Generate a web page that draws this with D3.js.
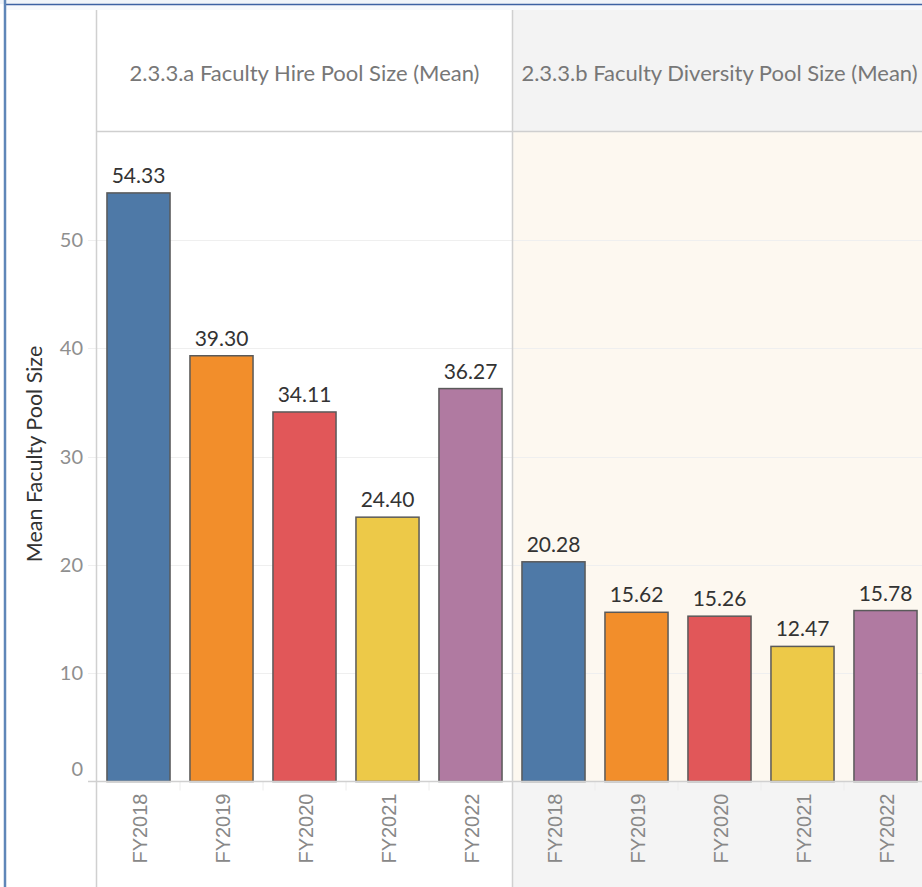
<!DOCTYPE html>
<html>
<head>
<meta charset="utf-8">
<script src="https://cdn.jsdelivr.net/npm/d3@7"></script>
<style>
  html, body { margin: 0; padding: 0; background: #fff; }
  svg { display: block; }
</style>
</head>
<body>
<div id="chart"></div>
<script>
// Mean faculty pool size by fiscal year, two measures side by side
const years = ["FY2018", "FY2019", "FY2020", "FY2021", "FY2022"];
const panelTitles = [
  "2.3.3.a Faculty Hire Pool Size (Mean)",
  "2.3.3.b Faculty Diversity Pool Size (Mean)"
];
const hirePoolMean = [54.33, 39.30, 34.11, 24.40, 36.27];
const diversityPoolMean = [20.28, 15.62, 15.26, 12.47, 15.78];
const yTicks = [0, 10, 20, 30, 40, 50];
const yTitle = "Mean Faculty Pool Size";
const yearColors = ["#4e79a7", "#f28e2b", "#e15759", "#edc948", "#b07aa1"];

const W = 922, H = 887;
const left = 97, panelW = 415;
const headerTop = 10, headerBottom = 131.5, baseline = 781.5;
const font = "Lato, 'Open Sans', sans-serif";

const svg = d3.select("#chart").append("svg")
  .attr("width", W).attr("height", H);

// frame around the dashboard
svg.append("rect").attr("x", 0).attr("y", 0).attr("width", W).attr("height", 4)
  .attr("fill", "#f0f4f9");
svg.append("rect").attr("x", 6).attr("y", 5).attr("width", W).attr("height", 5)
  .attr("fill", "#f7f9fc");
svg.append("line").attr("x1", 4).attr("x2", W).attr("y1", 4.5).attr("y2", 4.5)
  .attr("stroke", "#3d62a3").attr("stroke-width", 1.5);
svg.append("line").attr("x1", 5).attr("x2", 5).attr("y1", 0).attr("y2", H)
  .attr("stroke", "#5f86b8").attr("stroke-width", 2.5);

const y = d3.scaleLinear().domain([0, 60]).range([baseline, headerBottom]);
const panels = [hirePoolMean, diversityPoolMean];

// panel backgrounds (second pane is shaded)
svg.append("rect").attr("x", left + panelW).attr("y", headerTop)
  .attr("width", W - left - panelW).attr("height", headerBottom - headerTop)
  .attr("fill", "#f3f3f3");
svg.append("rect").attr("x", left + panelW).attr("y", headerBottom)
  .attr("width", W - left - panelW).attr("height", baseline - headerBottom)
  .attr("fill", "#fdf8f0");
svg.append("rect").attr("x", left + panelW).attr("y", baseline)
  .attr("width", W - left - panelW).attr("height", H - baseline)
  .attr("fill", "#f4f4f4");

// gridlines
svg.append("g").selectAll("line").data(yTicks.filter(d => d > 0)).join("line")
  .attr("x1", 88).attr("x2", W)
  .attr("y1", d => Math.round(y(d)) + 0.5).attr("y2", d => Math.round(y(d)) + 0.5)
  .attr("stroke", "#efefef").attr("stroke-width", 1);

// y axis labels
svg.append("g").selectAll("text").data(yTicks).join("text")
  .attr("x", 83)
  .attr("y", d => d === 0 ? y(d) - 13 : y(d))
  .attr("dy", "0.35em")
  .attr("text-anchor", "end")
  .attr("font-family", font).attr("font-size", 20)
  .attr("fill", "#8f8f8f")
  .text(d => d);

svg.append("text")
  .attr("transform", `translate(42,${454}) rotate(-90)`)
  .attr("text-anchor", "middle")
  .attr("font-family", font).attr("font-size", 21.5)
  .attr("fill", "#333")
  .text(yTitle);

panels.forEach((vals, p) => {
  const x0 = left + p * panelW;
  const x = d3.scaleBand().domain(years).range([x0, x0 + panelW])
    .paddingInner(0.24).paddingOuter(0.12);
  const g = svg.append("g");

  // header
  g.append("text")
    .attr("x", x0 + panelW / 2).attr("y", 73)
    .attr("dy", "0.35em")
    .attr("text-anchor", "middle")
    .attr("font-family", font).attr("font-size", 22)
    .attr("fill", "#777")
    .text(panelTitles[p]);

  // bars
  g.selectAll("rect.bar").data(vals).join("rect")
    .attr("class", "bar")
    .attr("x", (d, i) => x(years[i]))
    .attr("y", d => y(d))
    .attr("width", x.bandwidth())
    .attr("height", d => baseline - y(d))
    .attr("fill", (d, i) => yearColors[i])
    .attr("stroke", "#5a5a5a").attr("stroke-width", 1.5);

  // value labels
  g.selectAll("text.val").data(vals).join("text")
    .attr("class", "val")
    .attr("x", (d, i) => x(years[i]) + x.bandwidth() / 2)
    .attr("y", d => y(d) - 10)
    .attr("text-anchor", "middle")
    .attr("font-family", font).attr("font-size", 21)
    .attr("fill", "#333")
    .text(d => d.toFixed(2));

  // band separators below the axis
  g.selectAll("line.sep").data(years.slice(1)).join("line")
    .attr("class", "sep")
    .attr("x1", d => x(d) - x.step() * x.paddingInner() / 2)
    .attr("x2", d => x(d) - x.step() * x.paddingInner() / 2)
    .attr("y1", baseline).attr("y2", baseline + 9)
    .attr("stroke", "#ececec").attr("stroke-width", 1);

  // year labels, rotated
  g.selectAll("text.yr").data(years).join("text")
    .attr("class", "yr")
    .attr("transform", d => `translate(${x(d) + x.bandwidth() / 2 + 1},${baseline + 12}) rotate(-90)`)
    .attr("text-anchor", "end")
    .attr("dy", "0.35em")
    .attr("font-family", "'Liberation Sans', Arial, sans-serif").attr("font-size", 20)
    .attr("fill", "#888")
    .text(d => d);
});

// pane borders
svg.append("line").attr("x1", 88).attr("x2", W).attr("y1", baseline).attr("y2", baseline)
  .attr("stroke", "#d0d0d0").attr("stroke-width", 1.5);
svg.append("line").attr("x1", left).attr("x2", W).attr("y1", headerBottom).attr("y2", headerBottom)
  .attr("stroke", "#cfcfcf").attr("stroke-width", 1.5);
[left - 0.5, left + panelW + 0.5].forEach(xx => {
  svg.append("line").attr("x1", xx).attr("x2", xx).attr("y1", headerTop).attr("y2", H)
    .attr("stroke", "#d0d0d0").attr("stroke-width", 1.5);
});
</script>
</body>
</html>
